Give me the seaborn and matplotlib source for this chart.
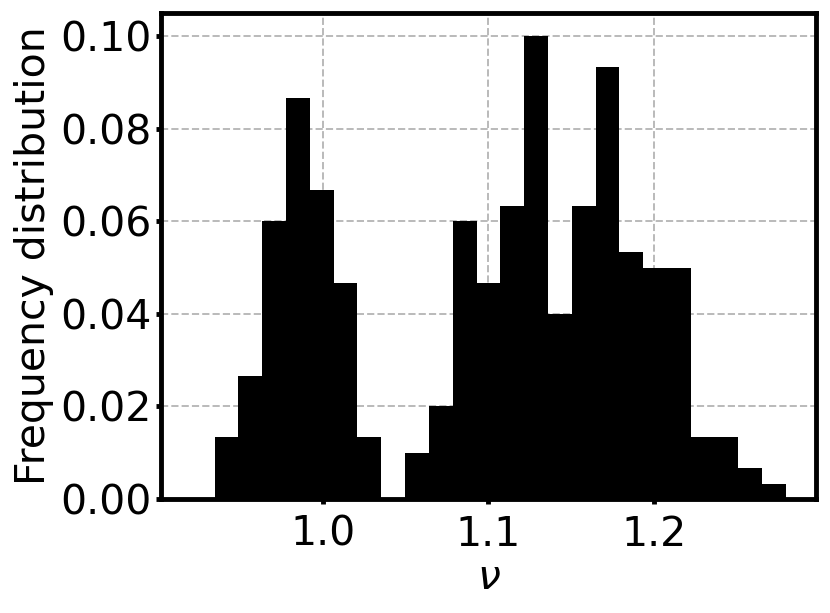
import numpy as np
import pandas as pd
import matplotlib
matplotlib.use("Agg")
import matplotlib.pyplot as plt
import seaborn as sns

# --- data: 25 equal bins from 0.92 to 1.28 ---
bin_range = (0.92, 1.28)
counts = [0, 4, 8, 18, 26, 20, 14, 4, 0, 3, 6, 18, 14,
          19, 30, 12, 19, 28, 16, 15, 15, 4, 4, 2, 1]
n_total = 300

x_ticks = [1.0, 1.1, 1.2]
y_ticks = [0.00, 0.02, 0.04, 0.06, 0.08, 0.10]

edges = np.linspace(bin_range[0], bin_range[1], len(counts) + 1)
df = pd.DataFrame({
    'nu': 0.5 * (edges[:-1] + edges[1:]),
    'freq': np.array(counts) / n_total,
})

sns.set_style("ticks")
plt.rcParams['font.family'] = ['DejaVu Sans']
plt.rcParams['mathtext.fontset'] = 'dejavusans'
for key in ['text.color', 'axes.labelcolor', 'xtick.color', 'ytick.color']:
    plt.rcParams[key] = 'black'

fig, ax = plt.subplots(figsize=(8.3, 6.13), dpi=100)
fig.subplots_adjust(left=0.194, right=0.983, top=0.979, bottom=0.186)

sns.histplot(data=df, x='nu', weights='freq', bins=len(counts), binrange=bin_range,
             stat='count', color='black', alpha=1, edgecolor='black',
             linewidth=0, ax=ax)

ax.set_axisbelow(True)
ax.grid(True, linestyle='--', color='#bababa', linewidth=1.4)
ax.set_xticks(x_ticks)
ax.set_yticks(y_ticks)
ax.set_yticklabels([f"{v:.2f}" for v in y_ticks])
ax.tick_params(axis='both', labelsize=29.5, length=3.5, width=3.5,
               direction='out', colors='black')
ax.tick_params(axis='x', pad=8)
ax.set_xlabel(r'$\nu$', fontsize=29.5, labelpad=2)
ax.set_ylabel('Frequency distribution', fontsize=29.5)
for sp in ax.spines.values():
    sp.set_linewidth(3.5)
    sp.set_color('black')

fig.savefig('out.png', dpi=100)
